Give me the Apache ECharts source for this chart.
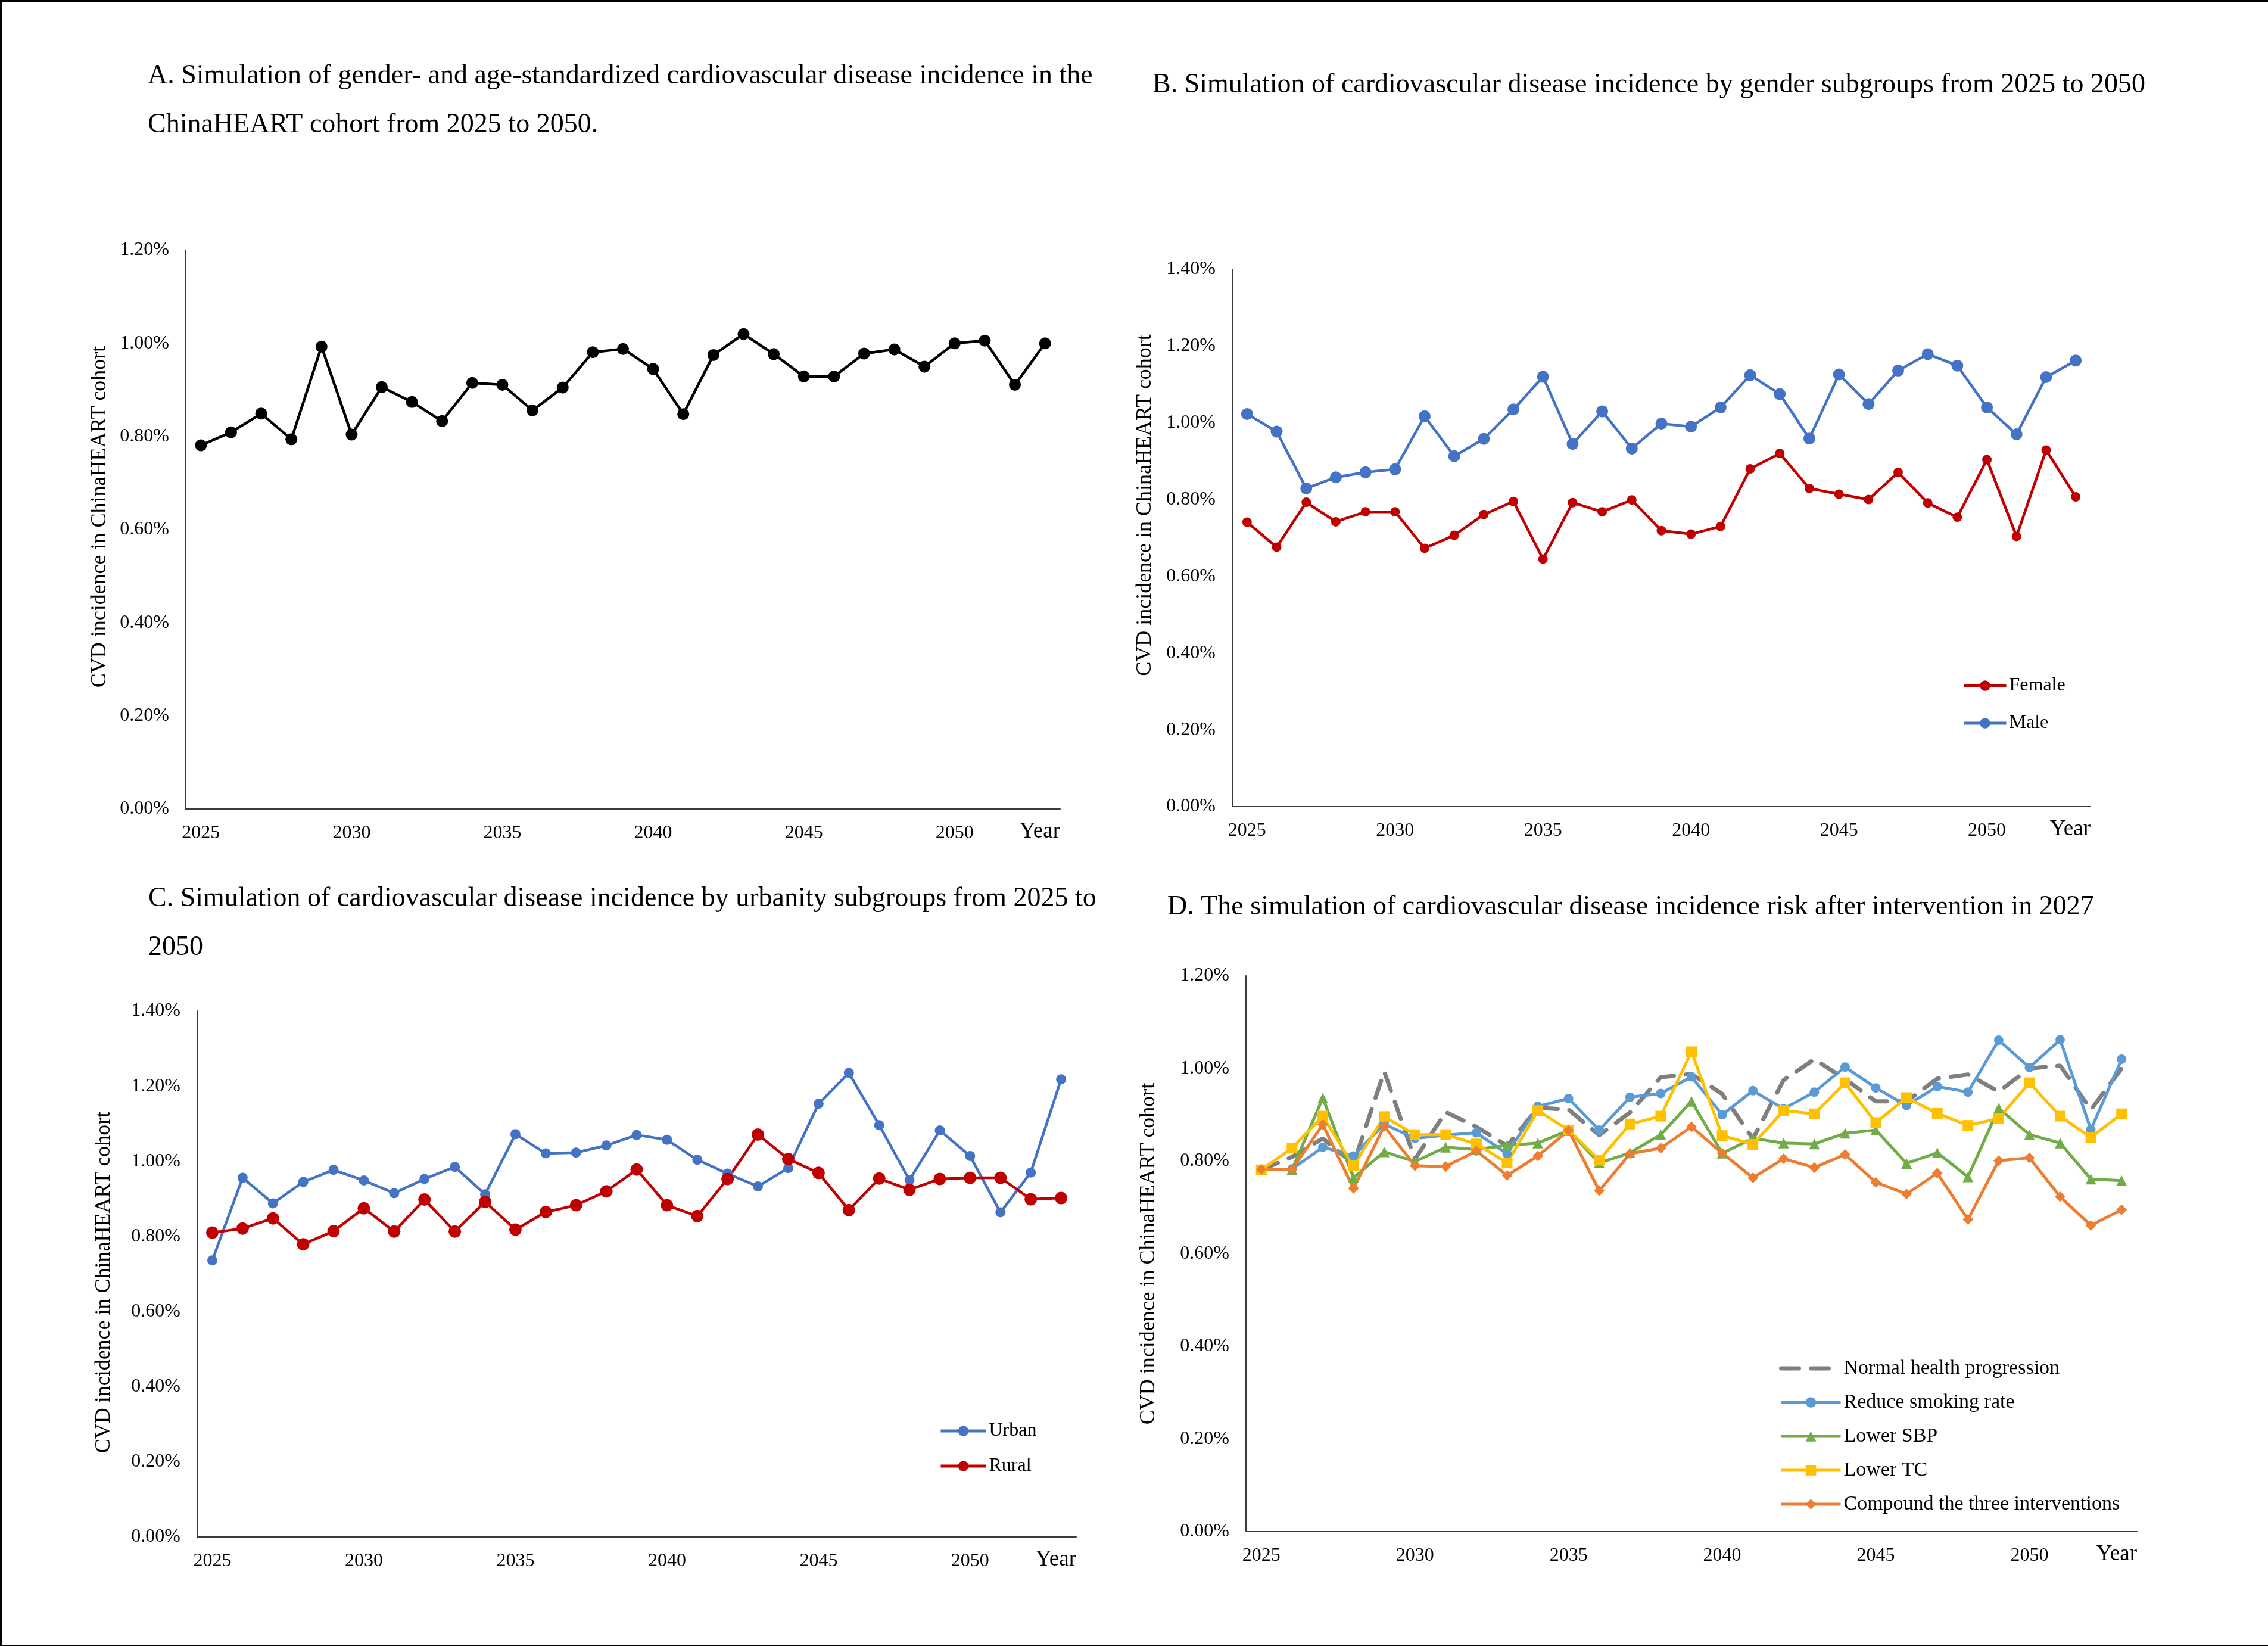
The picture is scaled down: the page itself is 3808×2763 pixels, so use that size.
<!DOCTYPE html>
<html><head><meta charset="utf-8">
<script src="https://cdn.jsdelivr.net/npm/echarts@6/dist/echarts.min.js"></script>
<style>html,body{margin:0;padding:0;background:#fff}#c{width:3808px;height:2763px}</style>
</head><body><div id="c"></div>
<script>
// ---------- data ----------
const years = ['2025','2026','2027','2028','2029','2030','2031','2032','2033','2034','2035','2036','2037','2038','2039','2040','2041','2042','2043','2044','2045','2046','2047','2048','2049','2050','2051','2052','2053'];
const xTickLabels = ['2025','2030','2035','2040','2045','2050'];
const overall = [0.781,0.809,0.849,0.794,0.993,0.804,0.906,0.874,0.833,0.915,0.911,0.856,0.905,0.981,0.988,0.945,0.848,0.975,1.020,0.977,0.929,0.929,0.978,0.987,0.950,1.000,1.006,0.911,1.000];
const female = [0.741,0.676,0.793,0.742,0.768,0.768,0.673,0.707,0.761,0.795,0.645,0.792,0.768,0.799,0.719,0.710,0.730,0.880,0.920,0.829,0.814,0.800,0.871,0.791,0.754,0.904,0.704,0.929,0.807];
const male = [1.023,0.977,0.829,0.858,0.871,0.879,1.017,0.913,0.958,1.035,1.120,0.945,1.030,0.933,0.998,0.990,1.040,1.124,1.075,0.959,1.126,1.049,1.136,1.179,1.149,1.040,0.970,1.119,1.162];
const urban = [0.736,0.956,0.888,0.945,0.977,0.949,0.915,0.953,0.985,0.912,1.072,1.021,1.023,1.042,1.070,1.057,1.004,0.967,0.933,0.982,1.153,1.235,1.096,0.950,1.082,1.014,0.864,0.970,1.218];
const rural = [0.810,0.821,0.848,0.779,0.814,0.875,0.813,0.898,0.813,0.892,0.818,0.865,0.883,0.920,0.978,0.883,0.854,0.953,1.071,1.006,0.969,0.870,0.954,0.924,0.953,0.956,0.956,0.899,0.902];
const normalProg = [0.781,0.809,0.849,0.794,0.993,0.804,0.906,0.874,0.833,0.915,0.911,0.856,0.905,0.981,0.988,0.945,0.848,0.975,1.020,0.977,0.929,0.929,0.978,0.987,0.950,1.000,1.006,0.911,1.000];
const smoking = [0.782,0.783,0.830,0.811,0.880,0.849,0.856,0.861,0.816,0.918,0.935,0.867,0.938,0.946,0.982,0.900,0.952,0.913,0.949,1.003,0.958,0.920,0.961,0.949,1.061,1.002,1.062,0.868,1.020];
const sbp = [0.782,0.782,0.936,0.764,0.820,0.799,0.830,0.825,0.834,0.839,0.866,0.796,0.818,0.857,0.929,0.817,0.849,0.839,0.837,0.860,0.867,0.795,0.818,0.766,0.914,0.857,0.839,0.761,0.758];
const tc = [0.781,0.828,0.897,0.790,0.896,0.857,0.857,0.837,0.796,0.909,0.867,0.802,0.880,0.897,1.036,0.855,0.836,0.909,0.902,0.969,0.883,0.937,0.903,0.877,0.892,0.969,0.897,0.851,0.902];
const compound = [0.782,0.782,0.879,0.741,0.875,0.790,0.788,0.822,0.769,0.811,0.866,0.736,0.816,0.828,0.874,0.817,0.764,0.805,0.786,0.814,0.754,0.729,0.774,0.674,0.801,0.807,0.723,0.661,0.695];

const titles = [
  'A. Simulation of gender- and age-standardized cardiovascular disease incidence in the\nChinaHEART cohort from 2025 to 2050.',
  'B. Simulation of cardiovascular disease incidence by gender subgroups from 2025 to 2050',
  'C. Simulation of cardiovascular disease incidence by urbanity subgroups from 2025 to\n2050',
  'D. The simulation of cardiovascular disease incidence risk after intervention in 2027'
];
const yName = 'CVD incidence in ChinaHEART cohort';
const xName = 'Year';

// ---------- styling ----------
const FONT = "'Liberation Serif','Times New Roman',serif";
const AX = '#3a3a3a';
const grids = [
  {left: 312, top: 420, width: 1468, height: 938},
  {left: 2069, top: 452, width: 1441, height: 902},
  {left: 331, top: 1697, width: 1476, height: 883},
  {left: 2092, top: 1638, width: 1496, height: 933}
];
const yMax = [1.2, 1.4, 1.4, 1.2];
const yGap = [126, 128, 138, 145];
const yNamePad = [[0, 0, 0, 43], [0, 0, 0, 110], [0, 28, 0, 0], [0, 0, 0, 0]];

function xAxis(i) {
  return {
    type: 'category', gridIndex: i, data: years, boundaryGap: true,
    axisLine: {show: true, lineStyle: {color: AX, width: 2}},
    axisTick: {show: false},
    axisLabel: {
      interval: (idx, val) => xTickLabels.indexOf(val) >= 0,
      margin: 25, fontSize: 32, fontFamily: FONT, color: '#000'
    },
    splitLine: {show: false},
    name: xName, nameLocation: 'end', nameGap: 0,
    nameTextStyle: {fontSize: 37, fontFamily: FONT, color: '#000', align: 'right', verticalAlign: 'top', padding: [20, 0, 0, 0]}
  };
}
function yAxis(i) {
  return {
    type: 'value', gridIndex: i, min: 0, max: yMax[i], interval: 0.2,
    axisLine: {show: true, lineStyle: {color: AX, width: 2}},
    axisTick: {show: false},
    splitLine: {show: false},
    axisLabel: {margin: 28, fontSize: 32, fontFamily: FONT, color: '#000', formatter: v => v.toFixed(2) + '%'},
    name: yName, nameLocation: 'middle', nameGap: yGap[i],
    nameTextStyle: {fontSize: 36, fontFamily: FONT, color: '#000', padding: yNamePad[i]}
  };
}
function line(name, data, i, color, symbol, size, width, extra) {
  return Object.assign({
    type: 'line', name: name, data: data, xAxisIndex: i, yAxisIndex: i,
    symbol: symbol, symbolSize: size, showSymbol: true,
    itemStyle: {color: color},
    lineStyle: {color: color, width: width},
    emphasis: {disabled: true}
  }, extra || {});
}
function legend(names, left, top, fs, iw, ih, gap) {
  return {
    data: names, orient: 'vertical', left: left, top: top, padding: 0,
    itemWidth: iw, itemHeight: ih, itemGap: gap, selectedMode: false,
    lineStyle: {width: 5},
    textStyle: {fontSize: fs, lineHeight: fs, fontFamily: FONT, color: '#000'}
  };
}

const titleStyle = {fontSize: 46, lineHeight: 82, fontWeight: 'normal', fontFamily: FONT, color: '#000'};
const option = {
  backgroundColor: '#fff',
  animation: false,
  title: [
    {text: titles[0], left: 248, top: 87, padding: 0, textStyle: titleStyle},
    {text: titles[1], left: 1935, top: 102, padding: 0, textStyle: titleStyle},
    {text: titles[2], left: 249, top: 1468, padding: 0, textStyle: titleStyle},
    {text: titles[3], left: 1960, top: 1482, padding: 0, textStyle: titleStyle}
  ],
  grid: grids,
  xAxis: [xAxis(0), xAxis(1), xAxis(2), xAxis(3)],
  yAxis: [yAxis(0), yAxis(1), yAxis(2), yAxis(3)],
  legend: [
    legend(['Female', 'Male'], 3295, 1135, 32, 71, 22, 31),
    legend(['Urban', 'Rural'], 1577, 2386, 32, 76, 22, 27),
    legend([
      {name: 'Normal health progression', itemStyle: {opacity: 0}, lineStyle: {width: 7}},
      'Reduce smoking rate', 'Lower SBP', 'Lower TC', 'Compound the three interventions'
    ], 2987, 2280, 34, 100, 22, 23)
  ],
  series: [
    line('Overall', overall, 0, '#000000', 'circle', 20, 4.5),
    line('Female', female, 1, '#C00000', 'circle', 16, 4.5),
    line('Male', male, 1, '#4472C4', 'circle', 20, 4.5),
    line('Urban', urban, 2, '#4472C4', 'circle', 17, 4.5),
    line('Rural', rural, 2, '#C00000', 'circle', 21, 4.5),
    line('Normal health progression', normalProg, 3, '#7F7F7F', 'none', 0, 7,
      {lineStyle: {color: '#7F7F7F', width: 7, type: [30, 20], cap: 'round'}}),
    line('Reduce smoking rate', smoking, 3, '#5B9BD5', 'circle', 16, 5),
    line('Lower SBP', sbp, 3, '#70AD47', 'triangle', 18, 5),
    line('Lower TC', tc, 3, '#FFC000', 'rect', 18, 5),
    line('Compound the three interventions', compound, 3, '#ED7D31', 'diamond', 18, 5)
  ],
  graphic: [
    {type: 'rect', shape: {x: 0, y: 0, width: 3808, height: 4}, style: {fill: '#000'}},
    {type: 'rect', shape: {x: 0, y: 0, width: 3, height: 2763}, style: {fill: '#000'}},
    {type: 'rect', shape: {x: 0, y: 2761, width: 3808, height: 2}, style: {fill: '#000'}}
  ]
};
const chart = echarts.init(document.getElementById('c'), null, {renderer: 'canvas'});
chart.setOption(option);
</script></body></html>
